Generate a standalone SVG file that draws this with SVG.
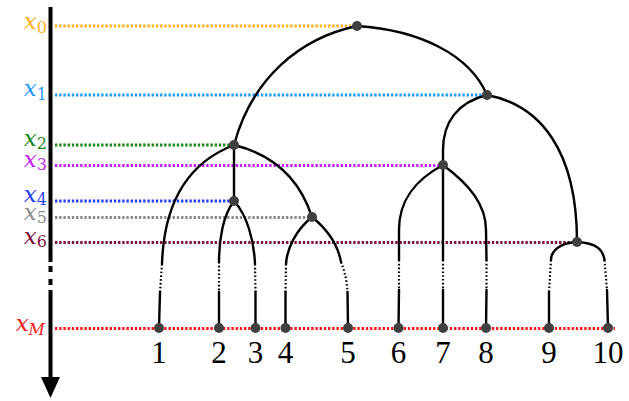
<svg xmlns="http://www.w3.org/2000/svg" width="629" height="401" viewBox="0 0 629 401">
<style>
.lvl{fill:none;stroke-width:3.2;stroke-dasharray:2.4 1.8}
.e{fill:none;stroke:#000;stroke-width:2.4;stroke-linecap:round}
.d{fill:none;stroke:#000;stroke-width:2.2;stroke-dasharray:1.6 2.2}
.n{fill:#404040}
.lab{font-family:"DejaVu Serif","Liberation Serif",serif;font-style:italic;font-size:23px}
.sub{font-style:normal;font-size:16px}
.num{font-family:"Liberation Serif","DejaVu Serif",serif;font-size:31px;text-anchor:middle;fill:#000}
</style>
<rect width="629" height="401" fill="#fff"/>
<g id="axis">
<path d="M50.5,7 V262 M50.5,266 V272 M50.5,279 V285 M50.5,290 V380" stroke="#000" stroke-width="4" fill="none"/>
<polygon points="41,377 60,377 50.5,398" fill="#000"/>
</g>
<g id="levels">
<line class="lvl" x1="55" y1="26" x2="357" y2="26" stroke="#ffb01f"/>
<line class="lvl" x1="55" y1="95" x2="487" y2="95" stroke="#1f9bff"/>
<line class="lvl" x1="55" y1="145" x2="234" y2="145" stroke="#1a881a"/>
<line class="lvl" x1="55" y1="165.5" x2="443" y2="165.5" stroke="#c61fff"/>
<line class="lvl" x1="55" y1="201" x2="234" y2="201" stroke="#1f3fff"/>
<line class="lvl" x1="55" y1="217.5" x2="312" y2="217.5" stroke="#8c8c8c"/>
<line class="lvl" x1="55" y1="242.5" x2="577" y2="242.5" stroke="#7f1040"/>
<line class="lvl" x1="55" y1="328.5" x2="615" y2="328.5" stroke="#ff1a1a" stroke-width="2.4"/>
</g>
<g id="labels">
<text class="lab" x="47" y="29" text-anchor="end" fill="#ffb01f">x<tspan class="sub" dy="4">0</tspan></text>
<text class="lab" x="47" y="96" text-anchor="end" fill="#1f9bff">x<tspan class="sub" dy="4">1</tspan></text>
<text class="lab" x="47" y="146" text-anchor="end" fill="#1a881a">x<tspan class="sub" dy="3">2</tspan></text>
<text class="lab" x="47" y="167" text-anchor="end" fill="#c61fff">x<tspan class="sub" dy="3">3</tspan></text>
<text class="lab" x="47" y="202" text-anchor="end" fill="#1f3fff">x<tspan class="sub" dy="3">4</tspan></text>
<text class="lab" x="47" y="220" text-anchor="end" fill="#8c8c8c">x<tspan class="sub" dy="3">5</tspan></text>
<text class="lab" x="47" y="244" text-anchor="end" fill="#7f1040">x<tspan class="sub" dy="3">6</tspan></text>
<text class="lab" x="45" y="331" text-anchor="end" fill="#ff1a1a">x<tspan class="sub" dy="4" style="font-style:italic">M</tspan></text>
</g>
<g id="connectors">
<path class="e" d="M357,26 C300,38 252,78 234,145"/>
<path class="e" d="M357,26 C420,30 470,55 487,95"/>
<path class="e" d="M487,95 C458,102 443,122 443,150 L443,165"/>
<path class="e" d="M487,95 C540,105 577,150 577,242"/>
<path class="e" d="M234,145 C190,162 164,200 162,264"/>
<path class="d" d="M162,264 L160,292"/>
<path class="e" d="M160,292 L159,328"/>
<path class="e" d="M234,145 L234,201"/>
<path class="e" d="M234,145 C275,155 300,180 312,217"/>
<path class="e" d="M234,201 C223,215 219,240 219,262"/>
<path class="d" d="M219,262 L219,292"/>
<path class="e" d="M219,292 L219,328"/>
<path class="e" d="M234,201 C247,215 254,240 255,264"/>
<path class="d" d="M255,264 L255.5,292"/>
<path class="e" d="M255.5,292 L255.5,328"/>
<path class="e" d="M312,217 C296,230 287,248 286,264"/>
<path class="d" d="M286,264 L285.5,292"/>
<path class="e" d="M285.5,292 L285.5,328"/>
<path class="e" d="M312,217 C328,230 338,245 341,262"/>
<path class="d" d="M341,262 C345,272 347,282 347.5,292"/>
<path class="e" d="M347.5,292 L348,328"/>
<path class="e" d="M443,165 C415,180 399,200 399,230 L399,260"/>
<path class="d" d="M399,260 L399,290"/>
<path class="e" d="M399,290 L398.5,328"/>
<path class="e" d="M443,165 L443,260"/>
<path class="d" d="M443,260 L443,290"/>
<path class="e" d="M443,290 L443,328"/>
<path class="e" d="M443,165 C470,185 486,205 486,230 L486.5,260"/>
<path class="d" d="M486.5,260 L486.5,290"/>
<path class="e" d="M486.5,290 L486,328"/>
<path class="e" d="M577,242 C558,243 551,252 551,260"/>
<path class="d" d="M551,260 L549,292"/>
<path class="e" d="M549,292 L549,328"/>
<path class="e" d="M577,242 C597,243 603,250 604.5,260"/>
<path class="d" d="M604.5,260 L607,290"/>
<path class="e" d="M607,290 L608,328"/>
</g>
<g id="nodes">
<circle class="n" cx="357" cy="26" r="5"/>
<circle class="n" cx="487" cy="95" r="5"/>
<circle class="n" cx="234" cy="145" r="5"/>
<circle class="n" cx="443" cy="165" r="5"/>
<circle class="n" cx="234" cy="201" r="5"/>
<circle class="n" cx="312" cy="217" r="5"/>
<circle class="n" cx="577" cy="242" r="5"/>
</g>
<g id="leaves">
<g id="leaf1"><circle class="n" cx="159" cy="328" r="5"/><text class="num" x="159" y="363">1</text></g>
<g id="leaf2"><circle class="n" cx="219" cy="328" r="5"/><text class="num" x="219" y="363">2</text></g>
<g id="leaf3"><circle class="n" cx="255.5" cy="328" r="5"/><text class="num" x="255.5" y="363">3</text></g>
<g id="leaf4"><circle class="n" cx="285.5" cy="328" r="5"/><text class="num" x="285.5" y="363">4</text></g>
<g id="leaf5"><circle class="n" cx="348" cy="328" r="5"/><text class="num" x="348" y="363">5</text></g>
<g id="leaf6"><circle class="n" cx="398.5" cy="328" r="5"/><text class="num" x="398.5" y="363">6</text></g>
<g id="leaf7"><circle class="n" cx="443" cy="328" r="5"/><text class="num" x="443" y="363">7</text></g>
<g id="leaf8"><circle class="n" cx="486" cy="328" r="5"/><text class="num" x="486" y="363">8</text></g>
<g id="leaf9"><circle class="n" cx="549" cy="328" r="5"/><text class="num" x="549" y="363">9</text></g>
<g id="leaf10"><circle class="n" cx="608" cy="328" r="5"/><text class="num" x="608" y="363">10</text></g>
</g>
</svg>
